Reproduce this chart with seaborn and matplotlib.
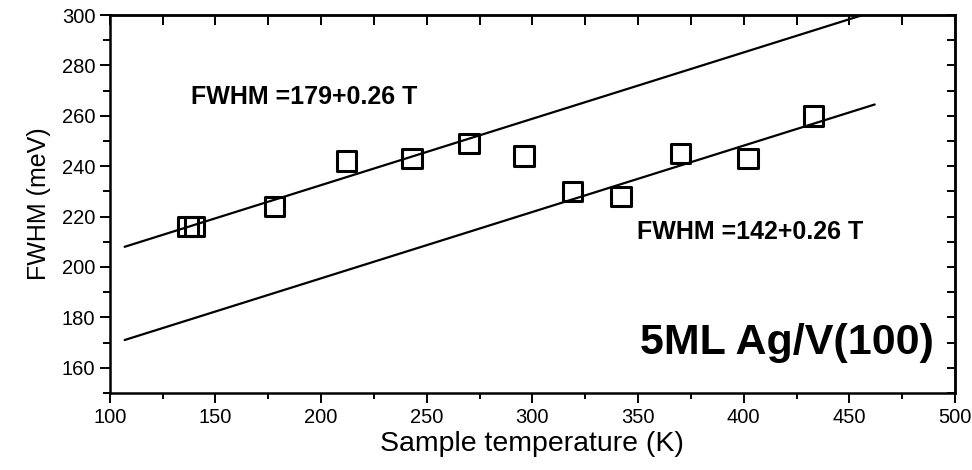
import numpy as np
import pandas as pd
import matplotlib
matplotlib.use("Agg")
import matplotlib.pyplot as plt
import seaborn as sns

# measured points (sample temperature in K, FWHM in meV)
temperature = [137, 140, 178, 212, 243, 270, 296, 319, 342, 370, 402, 433]
fwhm = [216, 216, 224, 242, 243, 249, 244, 230, 228, 245, 243, 260]

# the two straight fit lines, end points
fit_x = [107, 462]
fit_upper = [208, 301.5]
fit_lower = [171, 264.5]

upper_label = "FWHM =179+0.26 T"
lower_label = "FWHM =142+0.26 T"
sample_label = "5ML Ag/V(100)"

sns.set_theme(style="ticks")
plt.rcParams["font.family"] = ["Liberation Sans", "DejaVu Sans"]
plt.rcParams["text.color"] = "black"
plt.rcParams["axes.labelcolor"] = "black"

fig = plt.figure(figsize=(9.72, 4.70), dpi=100)
ax = fig.add_axes([0.113, 0.164, 0.8695, 0.804])

lines = pd.DataFrame({"T": fit_x * 2,
                      "W": fit_upper + fit_lower,
                      "fit": ["upper"] * 2 + ["lower"] * 2})
sns.lineplot(data=lines, x="T", y="W", units="fit", estimator=None,
             color="black", linewidth=1.6, ax=ax)

pts = pd.DataFrame({"T": temperature, "W": fwhm})
sns.scatterplot(data=pts, x="T", y="W", marker="s", s=195, color="black",
                linewidth=2.2, ax=ax, zorder=3)
ax.collections[-1].set_facecolor("none")
ax.collections[-1].set_edgecolor("black")

ax.set_xlim(100, 500)
ax.set_ylim(150, 300)
ax.set_xticks(np.arange(100, 501, 50))
ax.set_xticks(np.arange(125, 500, 50), minor=True)
ax.set_yticks(np.arange(160, 301, 20))
ax.set_yticks(np.arange(150, 300, 20), minor=True)

ax.set_xlabel("Sample temperature (K)", fontsize=20.5, labelpad=3, color="black")
ax.set_ylabel("FWHM (meV)", fontsize=18, labelpad=8, color="black")

ax.tick_params(which="major", direction="out", length=7, width=1.4,
               labelsize=14.5, color="black", labelcolor="black")
ax.tick_params(which="minor", direction="out", length=4, width=1.4,
               color="black")
ax.tick_params(axis="y", which="minor", length=5)
ax.tick_params(top=False, right=False)

for sp in ax.spines.values():
    sp.set_visible(True)
    sp.set_linewidth(1.8)
    sp.set_color("black")

top = ax.secondary_xaxis("top")
top.set_xticks(np.arange(100, 501, 25))
top.set_xticklabels([])
top.tick_params(direction="in", length=7, width=1.4, color="black")
top.spines["top"].set_linewidth(1.8)

right = ax.secondary_yaxis("right")
right.set_yticks(np.arange(150, 301, 10))
right.set_yticklabels([])
right.tick_params(direction="in", length=6, width=1.4, color="black")
right.spines["right"].set_linewidth(1.8)

ax.text(138.5, 267.5, upper_label, fontsize=18, fontweight="bold",
        ha="left", va="center", color="black")
ax.text(349.5, 214, lower_label, fontsize=18, fontweight="bold",
        ha="left", va="center", color="black")
ax.text(351, 170, sample_label, fontsize=31, fontweight="bold",
        ha="left", va="center", color="black")

fig.savefig("out.png", dpi=100)
